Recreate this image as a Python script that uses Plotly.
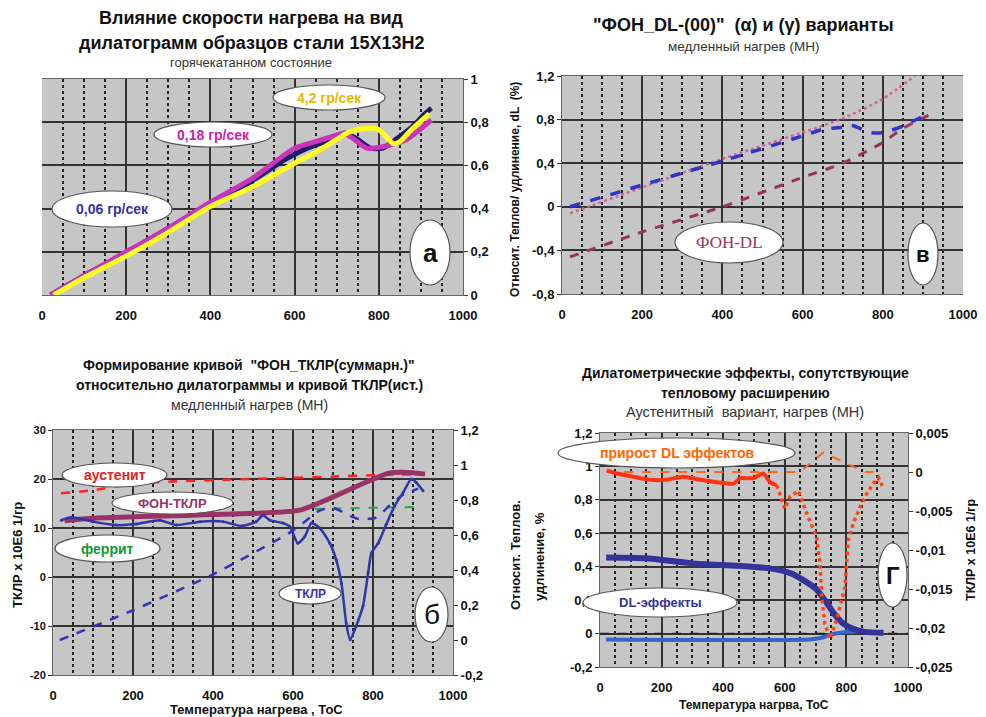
import plotly.graph_objects as go

# The page body has an 8 px margin; the figure is sized to fill the rest of the 986x717 window.
OFF = 8
W, H = 986 - OFF, 717 - OFF
def px(x): return (x - OFF) / W
def py(y): return 1 - (y - OFF) / H

# ---------------- DATA ----------------
x_ticks = [0, 200, 400, 600, 800, 1000]
x_ticklabels = ["0", "200", "400", "600", "800", "1000"]

# Panel a
a_T_slow = [20, 100, 205, 300, 400, 500, 580, 630, 700, 720, 750, 780, 810, 840, 880, 910, 925]
a_v_slow = [0, 0.09, 0.2, 0.31, 0.42, 0.53, 0.63, 0.68, 0.73, 0.75, 0.72, 0.68, 0.68, 0.72, 0.78, 0.84, 0.865]
a_T_mid = [20, 100, 200, 300, 400, 500, 600, 650, 700, 715, 735, 771, 818, 866, 900, 925]
a_v_mid = [0, 0.09, 0.2, 0.31, 0.43, 0.54, 0.68, 0.71, 0.74, 0.75, 0.73, 0.68, 0.69, 0.72, 0.77, 0.81]
a_T_fast = [28, 100, 200, 300, 400, 500, 600, 650, 700, 730, 760, 795, 815, 835, 850, 880, 920]
a_v_fast = [0, 0.08, 0.18, 0.29, 0.41, 0.50, 0.61, 0.66, 0.72, 0.755, 0.77, 0.77, 0.74, 0.70, 0.71, 0.77, 0.84]
a_yticks = [0, 0.2, 0.4, 0.6, 0.8, 1.0]
a_ylabels = ["0", "0,2", "0,4", "0,6", "0,8", "1"]

# Panel в
v_T_alpha = [20, 200, 400, 600, 650, 700, 720, 770, 800, 850, 900, 915]
v_alpha = [0.0, 0.2, 0.42, 0.65, 0.71, 0.73, 0.75, 0.68, 0.68, 0.74, 0.83, 0.85]
v_T_gamma = [20, 200, 400, 600, 700, 800, 850, 920]
v_gamma = [-0.46, -0.23, 0.0, 0.27, 0.4, 0.59, 0.72, 0.85]
v_T_ext = [20, 400, 700, 800, 880]
v_ext = [-0.06, 0.44, 0.81, 0.99, 1.2]
v_yticks = [-0.8, -0.4, 0, 0.4, 0.8, 1.2]
v_ylabels = ["-0,8", "-0,4", "0", "0,4", "0,8", "1,2"]

# Panel б
b_T_aus = [20, 100, 200, 300, 500, 700, 850, 930]
b_aus = [17.1, 17.7, 19.0, 19.5, 20.0, 20.5, 20.9, 20.9]
b_T_fon = [29, 100, 300, 500, 620, 840, 900, 930]
b_fon = [11.5, 12.0, 12.5, 13.0, 13.7, 21.2, 21.3, 21.0]
b_T_tklr = [21, 46, 100, 158, 208, 267, 308, 367, 425, 471, 508, 525, 542, 575, 592, 612, 629, 646,
            667, 692, 708, 721, 733, 743, 758, 775, 788, 796, 813, 833, 854, 875, 896, 908, 925]
b_tklr = [11.6, 12.2, 11.3, 10.6, 10.8, 11.6, 10.6, 11.3, 11.3, 10.4, 11.3, 12.6, 11.6, 11.0, 10.3, 6.9, 8.2, 11.0,
          10.0, 6.9, 3.5, -1.2, -9.4, -12.8, -10.0, -5.9, 0.9, 4.9, 6.9, 10.7, 14.5, 17.2, 20.0, 19.3, 17.6]
b_T_fer = [654, 913]
b_fer = [13.9, 14.3]
b_T_dil = [17, 200, 400, 600, 667, 700, 742, 767, 808, 842, 875, 913]
b_dil = [0.0, 0.17, 0.375, 0.625, 0.74, 0.755, 0.71, 0.69, 0.70, 0.77, 0.83, 0.865]
b_yticks = [-20, -10, 0, 10, 20, 30]
b_ylabels = ["-20", "-10", "0", "10", "20", "30"]
b_y2ticks = [-0.2, 0, 0.2, 0.4, 0.6, 0.8, 1.0, 1.2]
b_y2labels = ["-0,2", "0", "0,2", "0,4", "0,6", "0,8", "1", "1,2"]

# Panel г
g_T_dl = [20, 150, 300, 450, 550, 620, 660, 700, 730, 760, 790, 820, 860, 920]
g_dl = [0.455, 0.45, 0.42, 0.405, 0.39, 0.36, 0.32, 0.27, 0.2, 0.12, 0.06, 0.03, 0.01, 0.005]
g_T_lb = [20, 680, 720, 750, 800, 920]
g_lb = [-0.035, -0.035, -0.025, -0.005, 0.01, 0.01]
g_T_zero = [0, 1000]
g_zero = [0, 0]
g_T_inc1 = [22, 54, 108, 162, 216, 270, 325, 379, 433, 455, 498, 530, 552, 574]
g_inc1 = [0.0002, -0.0002, -0.0006, -0.001, -0.001, -0.0006, -0.001, -0.0013, -0.0015, -0.0008, -0.0008, -0.0002, -0.0013, -0.0017]
g_T_inc2 = [574, 600, 617, 644, 676, 703, 714, 720, 730, 747, 768, 795, 806, 822, 844, 866, 887, 904, 920]
g_inc2 = [-0.0017, -0.0047, -0.0032, -0.0024, -0.0058, -0.0083, -0.0117, -0.016, -0.0195, -0.0214, -0.019, -0.0148,
          -0.0088, -0.0066, -0.0045, -0.0028, -0.0015, -0.0007, -0.0021]
g_T_inc3 = [20, 649, 725, 801, 860, 898, 905]
g_inc3 = [0.0, 0.0, 0.0025, 0.0011, 0.0, 0.0, -0.0013]
g_yticks = [-0.2, 0, 0.2, 0.4, 0.6, 0.8, 1.0, 1.2]
g_ylabels = ["-0,2", "0", "0,2", "0,4", "0,6", "0,8", "1", "1,2"]
g_y2ticks = [-0.025, -0.02, -0.015, -0.01, -0.005, 0, 0.005]
g_y2labels = ["-0,025", "-0,02", "-0,015", "-0,01", "-0,005", "0", "0,005"]

# ---------------- FIGURE ----------------
fig = go.Figure()
FONT = "Arial, Liberation Sans, sans-serif"

def line(x, y, xa, ya, color, width, dash="solid", mode="lines", marker=None, shape="spline"):
    tr = go.Scatter(x=x, y=y, xaxis=xa, yaxis=ya, mode=mode,
                    line=dict(color=color, width=width, dash=dash, shape=shape, smoothing=0.6),
                    showlegend=False, hoverinfo="skip")
    if marker:
        tr.marker = marker
    fig.add_trace(tr)

# a
line(a_T_slow, a_v_slow, "x", "y", "#1c1c66", 5)
line(a_T_mid, a_v_mid, "x", "y", "#cc33bb", 5)
line(a_T_fast, a_v_fast, "x", "y", "#ffff22", 5)
# в
line(v_T_ext, v_ext, "x2", "y2", "#cc6699", 2.5, dash="dot")
line(v_T_gamma, v_gamma, "x2", "y2", "#993366", 3, dash="dash")
line(v_T_alpha, v_alpha, "x2", "y2", "#3333cc", 3.5, dash="dash")
# б
line(b_T_dil, b_dil, "x3", "y4", "#3333bb", 2.5, dash="dash")
line(b_T_fer, b_fer, "x3", "y3", "#22aa44", 2, dash="dash")
line(b_T_aus, b_aus, "x3", "y3", "#ff2222", 2.5, dash="dash")
line(b_T_fon, b_fon, "x3", "y3", "#993366", 5)
line(b_T_tklr, b_tklr, "x3", "y3", "#3333aa", 2.5, mode="lines+markers",
     marker=dict(size=3, color="#3333aa"))
# г
line(g_T_zero, g_zero, "x4", "y5", "#222222", 1.5, dash="dash", shape="linear")
line(g_T_lb, g_lb, "x4", "y5", "#3366cc", 4)
line(g_T_dl, g_dl, "x4", "y5", "#333399", 6)
line(g_T_inc3, g_inc3, "x4", "y6", "#ff6622", 2, dash="dash", shape="linear")
line(g_T_inc1, g_inc1, "x4", "y6", "#ff3311", 4)
line(g_T_inc2, g_inc2, "x4", "y6", "#ff4411", 3.5, dash="dot", shape="linear")

tickfont = dict(family=FONT, size=13, color="#111", weight="bold")

def xax(dom_px, anchor):
    return dict(domain=[px(dom_px[0]), px(dom_px[1])], anchor=anchor, range=[0, 1000],
                tickvals=x_ticks, ticktext=x_ticklabels, tickfont=tickfont,
                showgrid=True, gridcolor="#333", gridwidth=1.5,
                minor=dict(dtick=50, tick0=0, showgrid=True, griddash="dot", gridcolor="#222", gridwidth=1.5),
                showline=True, linecolor="#666", linewidth=1, mirror=True, zeroline=False,
                ticks="", ticklen=0, ticklabelstandoff=8, automargin=False)

def yax(dom_px, anchor, rng, tv, tt, side="left", grid=True, overlay=None, size=13):
    d = dict(domain=[py(dom_px[1]), py(dom_px[0])], anchor=anchor, range=rng,
             tickvals=tv, ticktext=tt, tickfont=dict(tickfont, size=size), side=side,
             showgrid=grid, gridcolor="#333", gridwidth=1.5, zeroline=False,
             showline=True, linecolor="#666", linewidth=1,
             ticks="outside", ticklen=4, tickcolor="#333", automargin=False)
    if overlay:
        d["overlaying"] = overlay
        d.pop("domain")
    return d

A = (42, 463, 79, 295)
V = (562, 963, 76, 294)
B = (53, 453, 430, 675)
G = (600, 908, 433, 667)

fig.update_layout(
    width=W, height=H, margin=dict(l=0, r=0, t=0, b=0, autoexpand=False),
    paper_bgcolor="white", plot_bgcolor="#c6c6c6",
    font=dict(family=FONT),
    xaxis=xax(A[:2], "y"),
    yaxis=yax(A[2:], "x", [0, 1], a_yticks, a_ylabels, side="right"),
    xaxis2=xax(V[:2], "y2"),
    yaxis2=yax(V[2:], "x2", [-0.8, 1.2], v_yticks, v_ylabels),
    xaxis3=xax(B[:2], "y3"),
    yaxis3=yax(B[2:], "x3", [-20, 30], b_yticks, b_ylabels, size=11),
    yaxis4=yax(B[2:], "x3", [-0.2, 1.2], b_y2ticks, b_y2labels, side="right", grid=False, overlay="y3"),
    xaxis4=xax(G[:2], "y5"),
    yaxis5=yax(G[2:], "x4", [-0.2, 1.2], g_yticks, g_ylabels),
    yaxis6=yax(G[2:], "x4", [-0.025, 0.005], g_y2ticks, g_y2labels, side="right", grid=False, overlay="y5"),
)

shapes = []
annotations = []

def ellipse(x0, x1, y0, y1, text, color, size=12, bold=True, family=FONT):
    shapes.append(dict(type="circle", xref="paper", yref="paper",
                       x0=px(x0), x1=px(x1), y0=py(y1), y1=py(y0),
                       line=dict(color="#555", width=1.2), fillcolor="white", layer="above"))
    annotations.append(dict(xref="paper", yref="paper", x=px((x0 + x1) / 2), y=py((y0 + y1) / 2),
                            text=f"<b>{text}</b>" if bold else text, showarrow=False,
                            font=dict(family=family, size=size, color=color),
                            xanchor="center", yanchor="middle"))

def text(x, y, t, size=12, color="#111", angle=0, bold=True):
    annotations.append(dict(xref="paper", yref="paper", x=px(x), y=py(y),
                            text=f"<b>{t}</b>" if bold else t, showarrow=False, textangle=angle,
                            font=dict(family=FONT, size=size, color=color),
                            xanchor="center", yanchor="middle"))

# panel a labels
ellipse(52, 172, 191, 227, "0,06 гр/сек", "#333399", 14)
ellipse(154, 272, 122, 147, "0,18 гр/сек", "#cc22aa", 14)
ellipse(273, 385, 85, 110, "4,2 гр/сек", "#e8b800", 14)
ellipse(410, 450, 220, 285, "а", "#111", 26)
# panel в
ellipse(675, 783, 222, 263, "ФОН-DL", "#993366", 17, bold=False, family="Liberation Serif, Times New Roman, serif")
ellipse(908, 938, 223, 285, "в", "#111", 22)
# panel б
ellipse(62, 167, 463, 487, "аустенит", "#e02020", 14)
ellipse(112, 233, 492, 514, "ФОН-ТКЛР", "#993366", 13)
ellipse(55, 160, 535, 562, "феррит", "#119933", 14)
ellipse(279, 341, 583, 604, "ТКЛР", "#3333aa", 12)
ellipse(415, 448, 587, 642, "б", "#111", 28, bold=False)
# panel г
ellipse(558, 795, 438, 468, "прирост DL эффектов", "#ff6600", 14)
ellipse(583, 737, 588, 617, "DL-эффекты", "#333399", 13)
ellipse(878, 907, 543, 607, "Г", "#111", 24)

# titles
text(251, 18, "Влияние скорости нагрева на вид", 18)
text(251, 43, "дилатограмм образцов стали 15Х13Н2", 18)
text(251, 63, "горячекатанном состояние", 13, "#333", bold=False)
text(743, 25, '"ФОН_DL-(00)"  (α) и (γ) варианты', 18)
text(743, 46, "медленный нагрев (МН)", 13.5, "#333", bold=False)
text(515, 190, "Относит. Теплов/ удлинение, dL  (%)", 12, angle=-90)
text(249, 365, "Формирование кривой  \"ФОН_ТКЛР(суммарн.)\"", 14)
text(249, 385, "относительно дилатограммы и кривой ТКЛР(ист.)", 14)
text(249, 405, "медленный нагрев (МН)", 14, "#333", bold=False)
text(17, 555, "ТКЛР x 10E6 1/гр", 13, angle=-90)
text(257, 709, "Температура нагрева , ТоС", 13)
text(745, 373, "Дилатометрические эффекты, сопутствующие", 14)
text(745, 393, "тепловому расширению", 14)
text(745, 412, "Аустенитный  вариант, нагрев (МН)", 14.5, "#333", bold=False)
text(515, 555, "Относит. Теплов.", 13, angle=-90)
text(539, 557, "удлинение, %", 13, angle=-90)
text(971, 550, "ТКЛР x 10E6 1/гр", 12.5, angle=-90)
text(754, 705, "Температура нагрва, ТоС", 12)

fig.update_layout(shapes=shapes, annotations=annotations)
fig.write_html("out.html")
